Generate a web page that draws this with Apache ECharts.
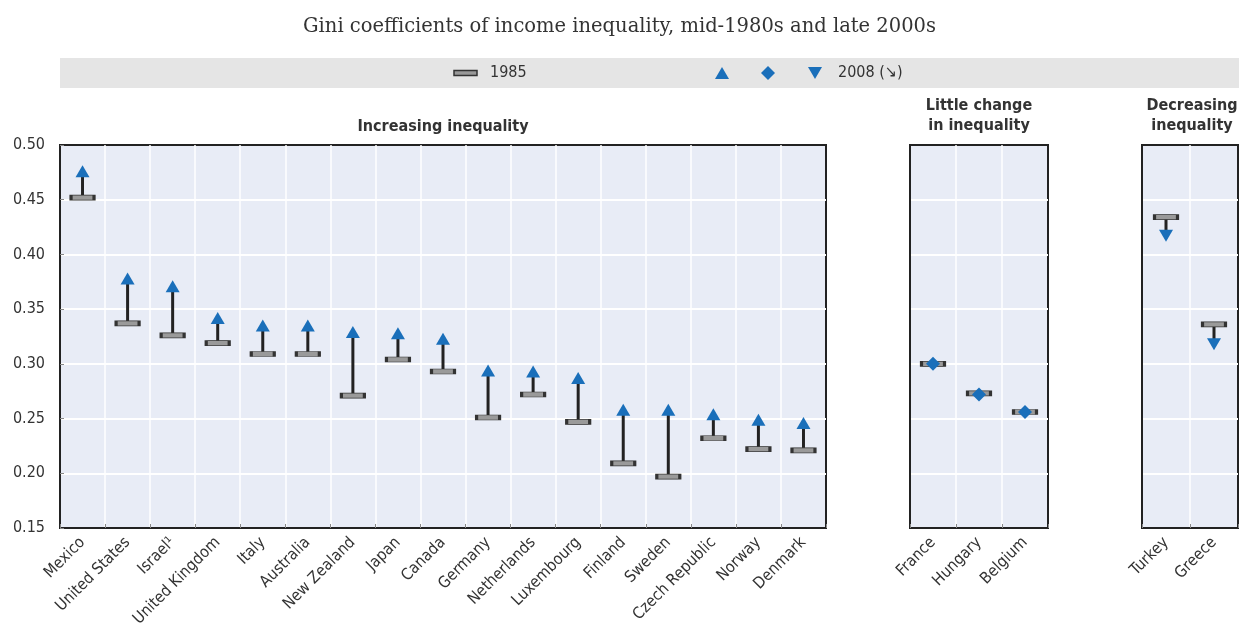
<!DOCTYPE html>
<html>
<head>
<meta charset="utf-8">
<script src="https://cdn.jsdelivr.net/npm/echarts@6/dist/echarts.min.js"></script>
<style>
html,body{margin:0;padding:0;background:#fff;}
#chart{width:1239px;height:635px;}
</style>
</head>
<body>
<div id="chart"></div>
<script>
// ---- data ----
var countriesUp = ['Mexico','United States','Israel\u00b9','United Kingdom','Italy','Australia','New Zealand','Japan','Canada','Germany','Netherlands','Luxembourg','Finland','Sweden','Czech Republic','Norway','Denmark'];
var gini1985Up = [0.452,0.337,0.326,0.319,0.309,0.309,0.271,0.304,0.293,0.251,0.272,0.247,0.209,0.197,0.232,0.222,0.221];
var gini2008Up = [0.476,0.378,0.371,0.342,0.335,0.335,0.329,0.328,0.323,0.294,0.293,0.287,0.258,0.258,0.254,0.249,0.246];

var countriesFlat = ['France','Hungary','Belgium'];
var gini1985Flat = [0.300,0.273,0.256];
var gini2008Flat = [0.300,0.272,0.256];

var countriesDown = ['Turkey','Greece'];
var gini1985Down = [0.434,0.336];
var gini2008Down = [0.417,0.318];

var yTicks = {min:0.15, max:0.50, interval:0.05};
var panelTitles = ['Increasing inequality','Little change\nin inequality','Decreasing\ninequality'];
var mainTitle = 'Gini coefficients of income inequality, mid-1980s and late 2000s';
var legendLabels = ['1985','2008 (\u2198)'];

// ---- styling ----
var NARROW = "'Liberation Sans Narrow','DejaVu Sans Condensed','Roboto','Arial',sans-serif";
var BLUE = '#1a6fba';
var PANEL_BG = '#e8ecf6';

var grids = [
  {left:60, top:145, width:766, height:383},
  {left:910, top:145, width:138, height:383},
  {left:1142, top:145, width:96, height:383}
];
var cats = [countriesUp, countriesFlat, countriesDown];

var option = {
  animation:false,
  backgroundColor:'#fff',
  title:{
    text: mainTitle, left:'center', top:12,
    textStyle:{fontFamily:"'DejaVu Serif',serif", fontSize:19.5, fontWeight:'normal', color:'#333'}
  },
  grid: grids.map(function(g){
    return Object.assign({show:true, backgroundColor:PANEL_BG, borderColor:'#222', borderWidth:2, containLabel:false}, g);
  }),
  xAxis: cats.map(function(c,i){
    return {
      type:'category', gridIndex:i, data:c, boundaryGap:true,
      axisLine:{show:true, lineStyle:{color:'#222', width:2}},
      axisTick:{show:true, inside:true, length:4, lineStyle:{color:'#888'}},
      splitLine:{show:true, showMinLine:false, showMaxLine:false, lineStyle:{color:'#ffffff', width:1.5}},
      axisLabel:{interval:0, rotate:45, margin:12, fontSize:16, color:'#333', fontFamily:NARROW}
    };
  }),
  yAxis: cats.map(function(c,i){
    return {
      type:'value', gridIndex:i, min:yTicks.min, max:yTicks.max, interval:yTicks.interval,
      axisLine:{show:true, lineStyle:{color:'#222', width:2}},
      axisTick:{show:i===0, inside:true, length:4, lineStyle:{color:'#888'}},
      splitLine:{show:true, showMinLine:false, showMaxLine:false, lineStyle:{color:'#ffffff', width:2}},
      axisLabel:{show:i===0, margin:15, fontSize:16, color:'#333', fontFamily:NARROW,
        formatter:function(v){return v.toFixed(2);}}
    };
  }),
  graphic:[
    {type:'rect', shape:{x:60, y:58, width:1179, height:30}, style:{fill:'#e5e5e5'}, silent:true},
    {type:'rect', shape:{x:454, y:70.5, width:23, height:5}, style:{fill:'#999', stroke:'#333', lineWidth:1.5}},
    {type:'text', x:490, y:73, style:{text:legendLabels[0], fontSize:16, fontFamily:NARROW, fill:'#333', textVerticalAlign:'middle'}},
    {type:'polygon', shape:{points:[[722,67],[715,79],[729,79]]}, style:{fill:BLUE}},
    {type:'polygon', shape:{points:[[768,66],[775,73],[768,80],[761,73]]}, style:{fill:BLUE}},
    {type:'polygon', shape:{points:[[815,79],[808,67],[822,67]]}, style:{fill:BLUE}},
    {type:'text', x:838, y:73, style:{text:legendLabels[1], fontSize:16, fontFamily:NARROW, fill:'#333', textVerticalAlign:'middle'}},
    {type:'text', x:443, y:127, style:{text:panelTitles[0], fontSize:16, fontWeight:'bold', fontFamily:NARROW, fill:'#333', textAlign:'center', textVerticalAlign:'middle'}},
    {type:'text', x:979, y:116, style:{text:panelTitles[1], fontSize:16, fontWeight:'bold', fontFamily:NARROW, fill:'#333', textAlign:'center', textVerticalAlign:'middle', lineHeight:20}},
    {type:'text', x:1192, y:116, style:{text:panelTitles[2], fontSize:16, fontWeight:'bold', fontFamily:NARROW, fill:'#333', textAlign:'center', textVerticalAlign:'middle', lineHeight:20}}
  ],
  series:[]
};

function stemSeries(idx, a, b){
  return {
    type:'custom', xAxisIndex:idx, yAxisIndex:idx, z:2,
    data:a.map(function(v,i){return [i, v, b[i]];}),
    renderItem:function(params, api){
      var p1 = api.coord([api.value(0), api.value(1)]);
      var p2 = api.coord([api.value(0), api.value(2)]);
      return {type:'line', shape:{x1:p1[0], y1:p1[1], x2:p2[0], y2:p2[1]}, style:{stroke:'#222', lineWidth:3}};
    }
  };
}
function barSeries(idx, a){
  return {
    type:'scatter', xAxisIndex:idx, yAxisIndex:idx, z:3, name:'1985',
    symbol:'rect', symbolSize:[23,5],
    itemStyle:{color:'#9a9a9a', borderColor:'#333', borderWidth:1.5, opacity:1},
    data:a.map(function(v,i){return [i, v];})
  };
}
function markSeries(idx, b, symbol, rotate, size){
  return {
    type:'scatter', xAxisIndex:idx, yAxisIndex:idx, z:4, name:'2008',
    symbol:symbol, symbolRotate:rotate, symbolSize:size,
    itemStyle:{color:BLUE, opacity:1},
    data:b.map(function(v,i){return [i, v];})
  };
}

option.series.push(stemSeries(0, gini1985Up, gini2008Up));
option.series.push(barSeries(0, gini1985Up));
option.series.push(markSeries(0, gini2008Up, 'triangle', 0, [14,12]));

option.series.push(barSeries(1, gini1985Flat));
option.series.push(markSeries(1, gini2008Flat, 'diamond', 0, [14,14]));

option.series.push(stemSeries(2, gini1985Down, gini2008Down));
option.series.push(barSeries(2, gini1985Down));
option.series.push(markSeries(2, gini2008Down, 'triangle', 180, [14,12]));

var chart = echarts.init(document.getElementById('chart'));
chart.setOption(option);
</script>
</body>
</html>
